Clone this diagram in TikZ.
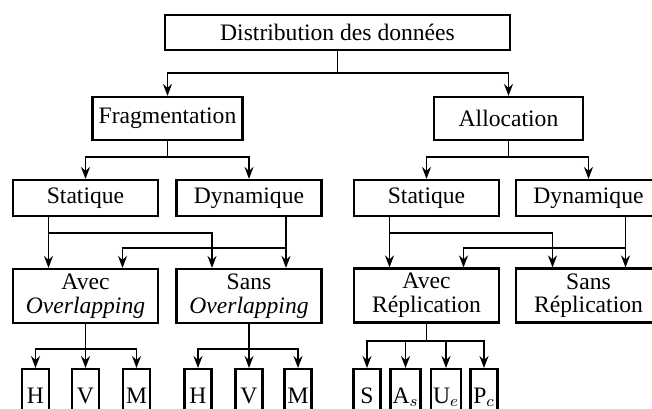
\documentclass[tikz,border=0pt]{standalone}
\usepackage{amsmath}
\usepackage{fontspec}
\setmainfont{Liberation Serif}
\usepackage{tikz}
\usetikzlibrary{positioning}
\usetikzlibrary{arrows.meta}
\tikzset{%
  fleche/.style = {-{Stealth[length=6pt,width=4.5pt,inset=2pt]},line width=0.9pt},
  trait/.style = {line width=0.9pt},
  bloc/.style = {rectangle,draw,line width=1.1pt,align=center,
        font=\fontsize{11.8}{11.8}\selectfont,
        minimum width=72.5pt,minimum height=18pt,inner sep=2pt},
  feuille/.style = {rectangle,draw,line width=1.1pt,anchor=north,
        font=\fontsize{11.8}{11.8}\selectfont,
        minimum width=13.5pt,minimum height=28pt,inner sep=1pt,
        text height=8pt,text depth=2pt}
}
\begin{document}
\begin{tikzpicture}[x=0.5pt,y=-0.5pt]
  \clip (0,0) rectangle (652,408);
  % niveaux 0 et 1
  \node[bloc,minimum width=172.5pt,minimum height=17.5pt] (dist) at (337.5,32.5) {Distribution des donn\'ees};
  \node[bloc,minimum width=75pt,minimum height=21.5pt] (frag) at (167.5,118.5) {Fragmentation};
  \node[bloc,minimum width=74.5pt,minimum height=21.5pt] (alloc) at (508.5,118.5) {Allocation};
  % niveau 2
  \node[bloc] (statf) at (85.5,198) {Statique};
  \node[bloc] (dynf) at (249,198) {Dynamique};
  \node[bloc] (stata) at (426.5,198) {Statique};
  \node[bloc] (dyna) at (588.5,198) {Dynamique};
  % niveau 3
  \node[bloc,minimum height=27pt] (avecov) at (85.5,296) {Avec\\\textit{Overlapping}};
  \node[bloc,minimum height=27pt] (sansov) at (249,296) {Sans\\\textit{Overlapping}};
  \node[bloc,minimum height=27pt] (avecrep) at (426.5,295.5) {Avec\\R\'eplication};
  \node[bloc,minimum height=27pt] (sansrep) at (588.5,295.5) {Sans\\R\'eplication};
  % feuilles
  \node[feuille] (h1) at (35.5,368) {H};
  \node[feuille] (v1) at (85.5,368) {V};
  \node[feuille] (m1) at (136.5,368) {M};
  \node[feuille] (h2) at (198,368) {H};
  \node[feuille] (v2) at (249,368) {V};
  \node[feuille] (m2) at (298,368) {M};
  \node[feuille] (s) at (367,368) {S};
  \node[feuille] (as) at (405.5,368) {A$_s$};
  \node[feuille] (ue) at (446,368) {U$_e$};
  \node[feuille] (pc) at (484,368) {P$_c$};

  % liaisons
  \draw[trait] (dist.south) -- ++(0,22) coordinate (j0);
  \draw[fleche] (j0) -| (frag.north);
  \draw[fleche] (j0) -| (alloc.north);

  \draw[trait] (frag.south) -- ++(0,16) coordinate (j1);
  \draw[fleche] (j1) -| (statf.north);
  \draw[fleche] (j1) -| (dynf.north);
  \draw[trait] (alloc.south) -- ++(0,16) coordinate (j2);
  \draw[fleche] (j2) -| (stata.north);
  \draw[fleche] (j2) -| (dyna.north);

  \draw[fleche] ([xshift=-18.5pt]statf.south) -- ([xshift=-18.5pt]avecov.north);
  \draw[fleche] ([xshift=-18.5pt]statf.south) ++(0,16) -| ([xshift=-18.5pt]sansov.north);
  \draw[fleche] ([xshift=18.5pt]dynf.south) -- ([xshift=18.5pt]sansov.north);
  \draw[fleche] ([xshift=18.5pt]dynf.south) ++(0,31) -| ([xshift=18.5pt]avecov.north);
  \draw[fleche] ([xshift=-18.5pt]stata.south) -- ([xshift=-18.5pt]avecrep.north);
  \draw[fleche] ([xshift=-18.5pt]stata.south) ++(0,16) -| ([xshift=-18pt]sansrep.north);
  \draw[fleche] ([xshift=18.5pt]dyna.south) -- ([xshift=18.5pt]sansrep.north);
  \draw[fleche] ([xshift=18.5pt]dyna.south) ++(0,31) -| ([xshift=18.5pt]avecrep.north);

  \draw[trait] (avecov.south) -- ++(0,25) coordinate (j3);
  \draw[fleche] (j3) -| (h1.north);
  \draw[fleche] (j3) -- (v1.north);
  \draw[fleche] (j3) -| (m1.north);
  \draw[trait] (sansov.south) -- ++(0,25) coordinate (j4);
  \draw[fleche] (j4) -| (h2.north);
  \draw[fleche] (j4) -- (v2.north);
  \draw[fleche] (j4) -| (m2.north);
  \draw[trait] (avecrep.south) -- ++(0,17) coordinate (j5);
  \draw[fleche] (j5) -| (s.north);
  \draw[fleche] (j5) -| (as.north);
  \draw[fleche] (j5) -| (ue.north);
  \draw[fleche] (j5) -| (pc.north);
\end{tikzpicture}
\end{document}
